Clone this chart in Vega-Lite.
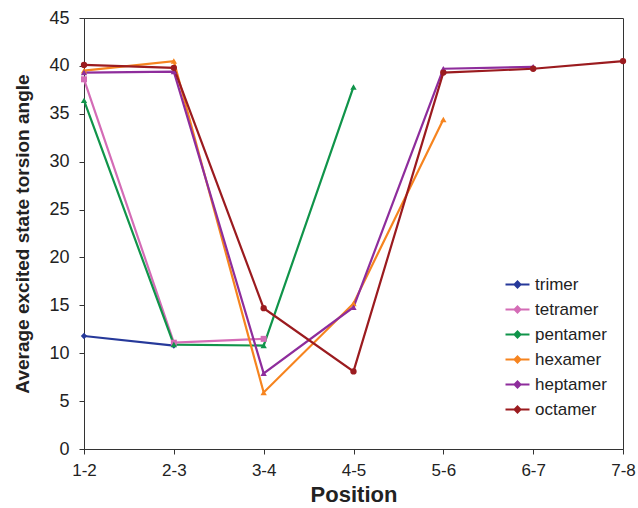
{
  "$schema": "https://vega.github.io/schema/vega-lite/v6.json",
  "width": 539,
  "height": 431,
  "autosize": {"type": "none"},
  "padding": {"left": 84, "top": 18, "right": 15, "bottom": 59},
  "background": "white",
  "config": {
    "font": "Liberation Sans",
    "view": {"stroke": "#333333", "strokeWidth": 1},
    "axis": {"grid": false, "domainColor": "#333333", "tickColor": "#333333", "labelColor": "#222222", "titleColor": "#222222", "labelFont": "Liberation Sans", "titleFont": "Liberation Sans"}
  },
  "data": {
    "values": [
      {"series": "trimer", "pos": "1-2", "value": 11.8},
      {"series": "trimer", "pos": "2-3", "value": 10.8},
      {"series": "tetramer", "pos": "1-2", "value": 38.6},
      {"series": "tetramer", "pos": "2-3", "value": 11.1},
      {"series": "tetramer", "pos": "3-4", "value": 11.5},
      {"series": "pentamer", "pos": "1-2", "value": 36.4},
      {"series": "pentamer", "pos": "2-3", "value": 10.9},
      {"series": "pentamer", "pos": "3-4", "value": 10.8},
      {"series": "pentamer", "pos": "4-5", "value": 37.8},
      {"series": "hexamer", "pos": "1-2", "value": 39.5},
      {"series": "hexamer", "pos": "2-3", "value": 40.5},
      {"series": "hexamer", "pos": "3-4", "value": 5.9},
      {"series": "hexamer", "pos": "4-5", "value": 15.2},
      {"series": "hexamer", "pos": "5-6", "value": 34.4},
      {"series": "heptamer", "pos": "1-2", "value": 39.3},
      {"series": "heptamer", "pos": "2-3", "value": 39.4},
      {"series": "heptamer", "pos": "3-4", "value": 7.9},
      {"series": "heptamer", "pos": "4-5", "value": 14.8},
      {"series": "heptamer", "pos": "5-6", "value": 39.7},
      {"series": "heptamer", "pos": "6-7", "value": 39.9},
      {"series": "octamer", "pos": "1-2", "value": 40.1},
      {"series": "octamer", "pos": "2-3", "value": 39.8},
      {"series": "octamer", "pos": "3-4", "value": 14.7},
      {"series": "octamer", "pos": "4-5", "value": 8.1},
      {"series": "octamer", "pos": "5-6", "value": 39.3},
      {"series": "octamer", "pos": "6-7", "value": 39.7},
      {"series": "octamer", "pos": "7-8", "value": 40.5}
    ]
  },
  "encoding": {
    "x": {
      "field": "pos", "type": "ordinal",
      "scale": {"type": "point", "padding": 0, "domain": ["1-2","2-3","3-4","4-5","5-6","6-7","7-8"]},
      "axis": {"title": "Position", "labelAngle": 0, "labelFontSize": 17, "titleFontSize": 22, "titleFontWeight": "bold", "tickSize": 5, "labelPadding": 8, "titlePadding": 6}
    },
    "y": {
      "field": "value", "type": "quantitative",
      "scale": {"domain": [0, 45], "nice": false},
      "axis": {"title": "Average excited state torsion angle", "values": [0,5,10,15,20,25,30,35,40,45], "labelFontSize": 18, "titleFontSize": 19, "titleFontWeight": "bold", "tickSize": 5, "labelPadding": 10, "titlePadding": 16}
    },
    "color": {
      "field": "series", "type": "nominal",
      "scale": {"domain": ["trimer","tetramer","pentamer","hexamer","heptamer","octamer"], "range": ["#26399a","#d46cb6","#10944a","#f6841f","#8e2d9c","#9b1b1f"]},
      "legend": {
        "title": null, "orient": "none", "legendX": 425, "legendY": 258, "padding": 0,
        "labelFontSize": 17, "labelColor": "#222222", "rowPadding": 7,
        "symbolType": "M-2,0L2,0M0,-0.5L0.5,0L0,0.5L-0.5,0Z",
        "symbolSize": 144, "symbolStrokeWidth": 2, "labelOffset": 9,
        "encode": {"symbols": {"update": {
          "stroke": {"scale": "color", "field": "value"},
          "fill": {"scale": "color", "field": "value"},
          "strokeWidth": {"value": 2}, "opacity": {"value": 1}}}}
      }
    }
  },
  "layer": [
    {
      "mark": {"type": "line", "strokeWidth": 2.2},
      "encoding": {"detail": {"field": "series"}}
    },
    {
      "transform": [{"filter": "datum.series == 'trimer'"}],
      "mark": {"type": "point", "filled": true, "size": 40, "opacity": 1, "shape": "diamond"}
    },
    {
      "transform": [{"filter": "datum.series == 'tetramer'"}],
      "mark": {"type": "point", "filled": true, "size": 36, "opacity": 1, "shape": "square"}
    },
    {
      "transform": [{"filter": "datum.series == 'pentamer' || datum.series == 'hexamer' || datum.series == 'heptamer'"}],
      "mark": {"type": "point", "filled": true, "size": 40, "opacity": 1, "shape": "triangle-up"}
    },
    {
      "transform": [{"filter": "datum.series == 'octamer'"}],
      "mark": {"type": "point", "filled": true, "size": 40, "opacity": 1, "shape": "circle"}
    }
  ]
}
